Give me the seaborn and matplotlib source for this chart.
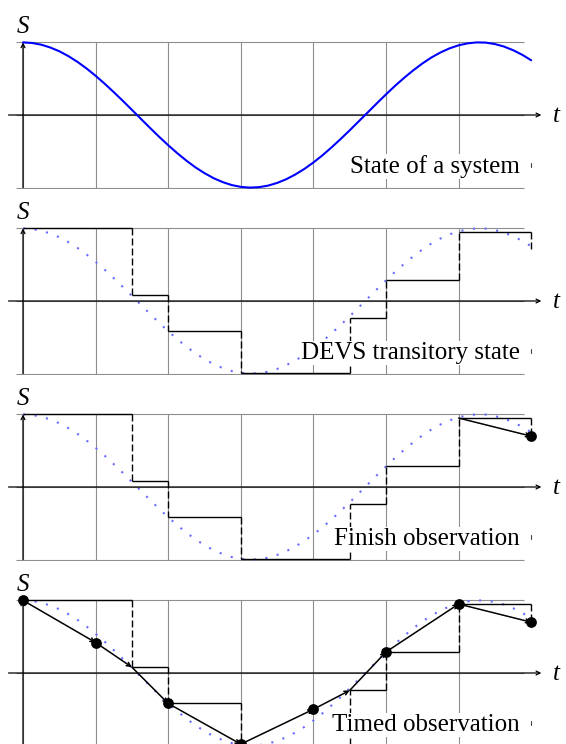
import matplotlib
matplotlib.use("Agg")
import pandas as pd
from matplotlib import pyplot as plt
import seaborn as sns

# continuous state of the system
t_curve = [0.0, 0.125, 0.25, 0.375, 0.5, 0.625, 0.75, 0.875, 1.0, 1.125, 1.25, 1.375,
           1.5, 1.625, 1.75, 1.875, 2.0, 2.125, 2.25, 2.375, 2.5, 2.625, 2.75, 2.875,
           3.0, 3.125, 3.25, 3.375, 3.5, 3.625, 3.75, 3.875, 4.0, 4.125, 4.25, 4.375,
           4.5, 4.625, 4.75, 4.875, 5.0, 5.125, 5.25, 5.375, 5.5, 5.625, 5.75, 5.875,
           6.0, 6.125, 6.25, 6.375, 6.5, 6.625, 6.75, 6.875, 7.0]
s_curve = [1.000, 0.992, 0.969, 0.930, 0.878, 0.811, 0.732, 0.641, 0.540, 0.431, 0.315, 0.195,
           0.071, -0.054, -0.178, -0.300, -0.416, -0.526, -0.628, -0.721, -0.801, -0.870, -0.924, -0.965,
           -0.990, -1.000, -0.994, -0.973, -0.936, -0.885, -0.820, -0.743, -0.654, -0.555, -0.446, -0.331,
           -0.211, -0.087, 0.037, 0.162, 0.284, 0.402, 0.512, 0.615, 0.709, 0.792, 0.861, 0.918,
           0.960, 0.987, 1.000, 0.997, 0.977, 0.943, 0.893, 0.830, 0.754]

# DEVS transitory state (events)
event_t = [0, 1.5, 2, 3, 4.5, 5, 6, 7]
event_s = [1.00, 0.08, -0.42, -0.99, -0.24, 0.29, 0.95, 0.70]

# finish observation
finish_t = [6, 7]
finish_s = [0.95, 0.70]

# timed observations
obs_t = [0, 1, 2, 3, 4, 5, 6, 7]
obs_s = [1.00, 0.42, -0.42, -0.98, -0.50, 0.29, 0.95, 0.70]

titles = ["State of a system", "DEVS transitory state", "Finish observation", "Timed observation"]
grid_t = [0, 1, 2, 3, 4, 5, 6]

W, H = 566, 744
PPU = 72.6          # pixels per data unit
X0 = 23             # pixel position of t = 0
AXIS_Y = [115, 301, 487, 673]

SERIF = "Liberation Serif"
GRID_COLOR = "#8e8e8e"
DOT_BLUE = "#6b6bff"


def arrow(ax, p0, p1, lw=0.9, z=3, scale=7):
    ax.annotate("", xy=p1, xytext=p0, zorder=z, annotation_clip=False,
                arrowprops=dict(arrowstyle="->", lw=lw, color="black",
                                shrinkA=0, shrinkB=0, mutation_scale=scale))


def draw_frame(ax, title):
    ax.vlines(grid_t, -1, 1, color=GRID_COLOR, lw=0.8, zorder=1)
    ax.hlines([-1, 0, 1], -0.1, 6.9, color=GRID_COLOR, lw=0.8, zorder=1)
    arrow(ax, (-0.2, 0), (7.14, 0))
    arrow(ax, (0, -1), (0, 1))
    ax.text(0.0, 1.13, "S", ha="center", va="baseline", fontsize=18,
            style="italic", family=SERIF, color="black")
    ax.text(7.3, -0.1, "t", ha="left", va="baseline", fontsize=18,
            style="italic", family=SERIF, color="black")
    ax.text(6.84, -0.80, title, ha="right", va="baseline", fontsize=18, family=SERIF,
            color="black", bbox=dict(facecolor="white", edgecolor="none", pad=0.5), zorder=6)
    ax.plot([7.0, 7.0], [-0.66, -0.71], color="#444444", lw=0.8, zorder=6)


def draw_dotted_state(ax):
    sns.lineplot(x=t_curve, y=s_curve, ax=ax, color=DOT_BLUE, lw=1.5,
                 linestyle=(0, (1, 4.6)), estimator=None, sort=False, zorder=2)


def draw_steps(ax):
    ax.hlines(event_s[:-1], event_t[:-1], event_t[1:], color="black", lw=1.0, zorder=3)
    ax.vlines(event_t[1:], event_s[:-1], event_s[1:], color="black", lw=1.0,
              linestyles=[(0, (5, 2.2))], zorder=3)


fig = plt.figure(figsize=(W / 100, H / 100), dpi=100)
sns.set_style("white")

axes = []
for k, ay in enumerate(AXIS_Y):
    top, bottom = ay - 112, ay + 74
    ax = fig.add_axes([0, 1 - bottom / H, 1, (bottom - top) / H])
    ax.set_xlim(-X0 / PPU, (W - X0) / PPU)
    ax.set_ylim(-74 / PPU, 112 / PPU)
    ax.axis("off")
    axes.append(ax)

# panel 1: state of the system
draw_frame(axes[0], titles[0])
sns.lineplot(x=t_curve, y=s_curve, ax=axes[0], color="#0000ff", lw=1.5,
             estimator=None, sort=False, zorder=4)

# panel 2: DEVS transitory state
draw_frame(axes[1], titles[1])
draw_dotted_state(axes[1])
draw_steps(axes[1])

# panel 3: finish observation
draw_frame(axes[2], titles[2])
draw_dotted_state(axes[2])
draw_steps(axes[2])
arrow(axes[2], (finish_t[0], finish_s[0]), (finish_t[1], finish_s[1]), lw=1.1, z=4)
sns.scatterplot(x=finish_t[1:], y=finish_s[1:], ax=axes[2], color="black",
                s=60, linewidth=0, zorder=5)

# panel 4: timed observation
draw_frame(axes[3], titles[3])
draw_dotted_state(axes[3])
draw_steps(axes[3])
path = pd.concat([pd.DataFrame({"t": obs_t, "s": obs_s}),
                  pd.DataFrame({"t": event_t, "s": event_s})])
path = path.drop_duplicates("t", keep="first").sort_values("t").reset_index(drop=True)
for i in range(len(path) - 1):
    arrow(axes[3], (path.t[i], path.s[i]), (path.t[i + 1], path.s[i + 1]), lw=1.1, z=4)
sns.scatterplot(x=obs_t, y=obs_s, ax=axes[3], color="black", s=60, linewidth=0, zorder=5)

fig.savefig("out.png", dpi=100)
plt.close(fig)
